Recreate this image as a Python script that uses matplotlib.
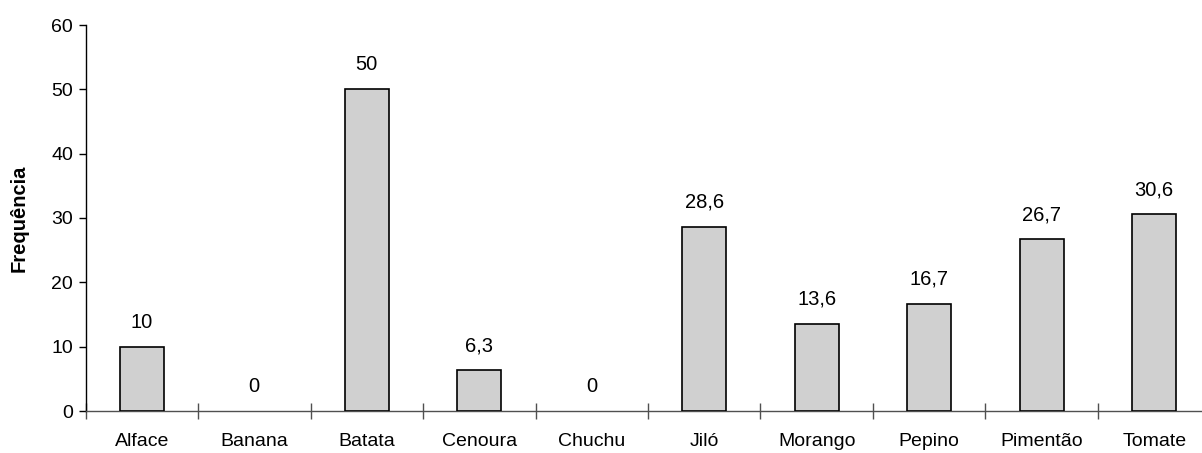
import matplotlib
matplotlib.use("Agg")
import matplotlib.pyplot as plt
from matplotlib.ticker import FixedLocator, MultipleLocator

plt.rcParams['font.family'] = ['Liberation Sans', 'DejaVu Sans']

categories = ["Alface", "Banana", "Batata", "Cenoura", "Chuchu",
              "Jiló", "Morango", "Pepino", "Pimentão", "Tomate"]
frequencia = [10, 0, 50, 6.3, 0, 28.6, 13.6, 16.7, 26.7, 30.6]

fig = plt.figure(figsize=(12.02, 4.53), dpi=100)
ax = fig.add_axes([85.5 / 1202, 1 - 411 / 453, 1 - 85.5 / 1202, (411 - 25) / 453])

x = list(range(len(categories)))
bars = ax.bar(x, frequencia, width=0.39, color="#d0d0d0", edgecolor="black",
              linewidth=1.2, zorder=3)
# empty bars have no visible outline
for b, v in zip(bars, frequencia):
    if v == 0:
        b.set_visible(False)

for xi, v in zip(x, frequencia):
    label = f"{v:g}".replace(".", ",")
    ax.annotate(label, (xi, v), xytext=(0, 13.7), textcoords="offset points",
                ha="center", va="baseline", fontsize=14.5, color="black")

ax.set_ylim(0, 60)
ax.set_xlim(-0.5, (1202 - 85.5) / 112.5 - 0.5)
ax.yaxis.set_major_locator(MultipleLocator(10))

ax.set_xticks(x)
ax.set_xticklabels(categories, fontsize=14)
ax.xaxis.set_minor_locator(FixedLocator([i - 0.5 for i in range(len(categories) + 1)]))
ax.tick_params(axis="x", which="major", length=0, pad=16)
ax.tick_params(axis="x", which="minor", length=12, direction="inout",
               color="#505050", width=1)
ax.tick_params(axis="y", which="major", length=5, direction="out",
               labelsize=14, color="black", width=1, pad=4)

for side in ("top", "right"):
    ax.spines[side].set_visible(False)
ax.spines["left"].set_color("black")
ax.spines["left"].set_linewidth(1)
ax.spines["bottom"].set_color("#505050")
ax.spines["bottom"].set_linewidth(1)

ax.set_ylabel("Frequência", fontsize=14.5, fontweight="bold", labelpad=16)

fig.savefig("out.png", dpi=100)
